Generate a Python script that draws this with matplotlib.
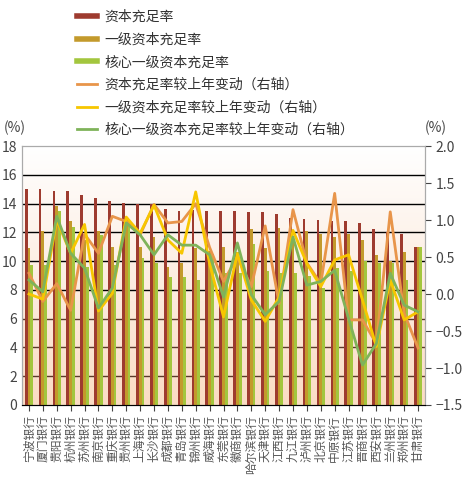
import matplotlib
matplotlib.use("Agg")
import matplotlib.pyplot as plt
import numpy as np
from matplotlib.lines import Line2D
from matplotlib.colors import LinearSegmentedColormap

plt.rcParams['font.family'] = ['Noto Sans CJK SC', 'DejaVu Sans']

banks = ["宁波银行","厦门银行","贵阳银行","杭州银行","苏州银行","南京银行","重庆银行","贵州银行",
         "上海银行","长沙银行","成都银行","青岛银行","锦州银行","威海银行","东莞银行","徽商银行",
         "哈尔滨银行","天津银行","江西银行","九江银行","泸州银行","北京银行","中原银行","江苏银行",
         "晋商银行","西安银行","兰州银行","郑州银行","甘肃银行"]
car = [15.0,15.0,14.9,14.85,14.6,14.4,14.2,14.05,14.0,13.95,13.6,13.5,13.55,13.45,13.45,13.5,
       13.4,13.4,13.3,13.0,12.95,12.85,12.8,12.8,12.65,12.2,12.0,11.85,11.0]
t1 = [10.9,12.1,13.8,12.8,11.5,12.1,11.0,13.0,11.0,11.7,9.6,9.9,10.9,10.7,11.0,10.6,
      12.2,10.9,12.3,11.4,12.1,11.9,11.7,11.9,11.5,10.4,10.0,10.6,11.0]
cet1 = [9.7,9.7,13.5,12.4,9.6,11.8,9.7,12.8,10.2,9.9,8.9,8.9,8.7,10.5,9.2,9.2,
        11.2,9.3,9.2,9.2,9.0,8.1,9.5,9.3,10.0,9.9,9.9,8.7,11.0]
d_car = [0.28,-0.10,0.14,-0.22,0.81,0.55,1.05,0.98,0.80,1.21,0.96,0.98,1.22,0.63,0.17,0.50,
         0.10,0.92,-0.13,1.14,0.42,0.14,1.36,-0.35,-0.35,-0.67,1.11,-0.26,-0.73]
d_t1 = [0.00,-0.07,1.00,0.55,0.94,-0.23,0.01,1.04,0.82,1.20,0.73,0.55,1.38,0.41,-0.31,0.55,
        -0.08,-0.37,-0.04,0.86,0.41,0.10,0.46,0.53,-0.08,-0.71,0.19,-0.35,-0.24]
d_cet1 = [0.19,0.03,1.05,0.55,0.35,-0.19,0.08,0.96,0.80,0.53,0.80,0.66,0.66,0.53,-0.04,0.69,
          -0.01,-0.28,-0.10,0.77,0.12,0.17,0.32,-0.33,-0.96,-0.67,0.28,-0.15,-0.24]
legend_labels = ["资本充足率","一级资本充足率","核心一级资本充足率","资本充足率较上年变动（右轴）",
                 "一级资本充足率较上年变动（右轴）","核心一级资本充足率较上年变动（右轴）"]

c_red, c_gold, c_green = "#9E3B2F", "#C39A2C", "#A3C63E"
c_or, c_ye, c_lg = "#E8954A", "#F7C600", "#7FB35A"

fig = plt.figure(figsize=(4.69, 4.99), dpi=100)
ax = fig.add_axes([22/469, 94/499, 403/469, 259/499])
x = np.arange(len(banks))
ax.set_xlim(-0.5, len(banks)-0.5)
ax.set_ylim(0, 18)
grad = np.linspace(0, 1, 256).reshape(-1, 1)
cm = LinearSegmentedColormap.from_list("g", ["#FADCC4", "#FFFFFF"])
ax.imshow(grad, aspect='auto', cmap=cm, extent=(-0.5, len(banks)-0.5, 0, 18), origin='lower', zorder=0)
for v in [2,4,6]:
    ax.axhline(v, color="#5a3a2a", lw=1, zorder=1)
for v in [8,10,12,14,16]:
    ax.axhline(v, color="black", lw=1, zorder=1)
w = 0.2
ax.bar(x-w, car, w, color=c_red, zorder=2)
ax.bar(x, t1, w, color=c_gold, zorder=2)
ax.bar(x+w, cet1, w, color=c_green, zorder=2)
ax.set_yticks(range(0, 19, 2))
ax.set_xticks(x)
ax.set_xticklabels(banks, rotation=90, fontsize=8.5, color="#555555")
ax.tick_params(axis='y', labelsize=10, colors="#444444", length=0)
ax.tick_params(axis='x', length=4, color="#444444")
for s in ['top','right','left']:
    ax.spines[s].set_color("#aaaaaa")
ax.spines['bottom'].set_color("#444444")

ax2 = ax.twinx()
ax2.set_ylim(-1.5, 2.0)
ax2.plot(x, d_car, color=c_or, lw=2, zorder=3)
ax2.plot(x, d_t1, color=c_ye, lw=2, zorder=3)
ax2.plot(x, d_cet1, color=c_lg, lw=2, zorder=3)
ax2.set_yticks(np.arange(-1.5, 2.01, 0.5))
ax2.set_yticklabels([f"{v:.1f}".replace("-", "−") for v in np.arange(-1.5, 2.01, 0.5)])
ax2.tick_params(axis='y', labelsize=10, colors="#444444", length=4)
for s in ['top','right','left']:
    ax2.spines[s].set_color("#aaaaaa")

fig.text(4/469, 1-128/499, "(%)", fontsize=10, color="#444444", va='center')
fig.text(425/469, 1-128/499, "(%)", fontsize=10, color="#444444", va='center')

handles = [Line2D([0],[0], color=c, lw=lw) for c, lw in
           [(c_red,4),(c_gold,4),(c_green,4),(c_or,2),(c_ye,2),(c_lg,2)]]
fig.legend(handles, legend_labels, loc='upper left', bbox_to_anchor=(64/469, 1.005),
           frameon=False, fontsize=10, handlelength=1.5, labelspacing=0.62,
           handletextpad=0.5, labelcolor="#333333")
fig.savefig("out.png", dpi=100)
